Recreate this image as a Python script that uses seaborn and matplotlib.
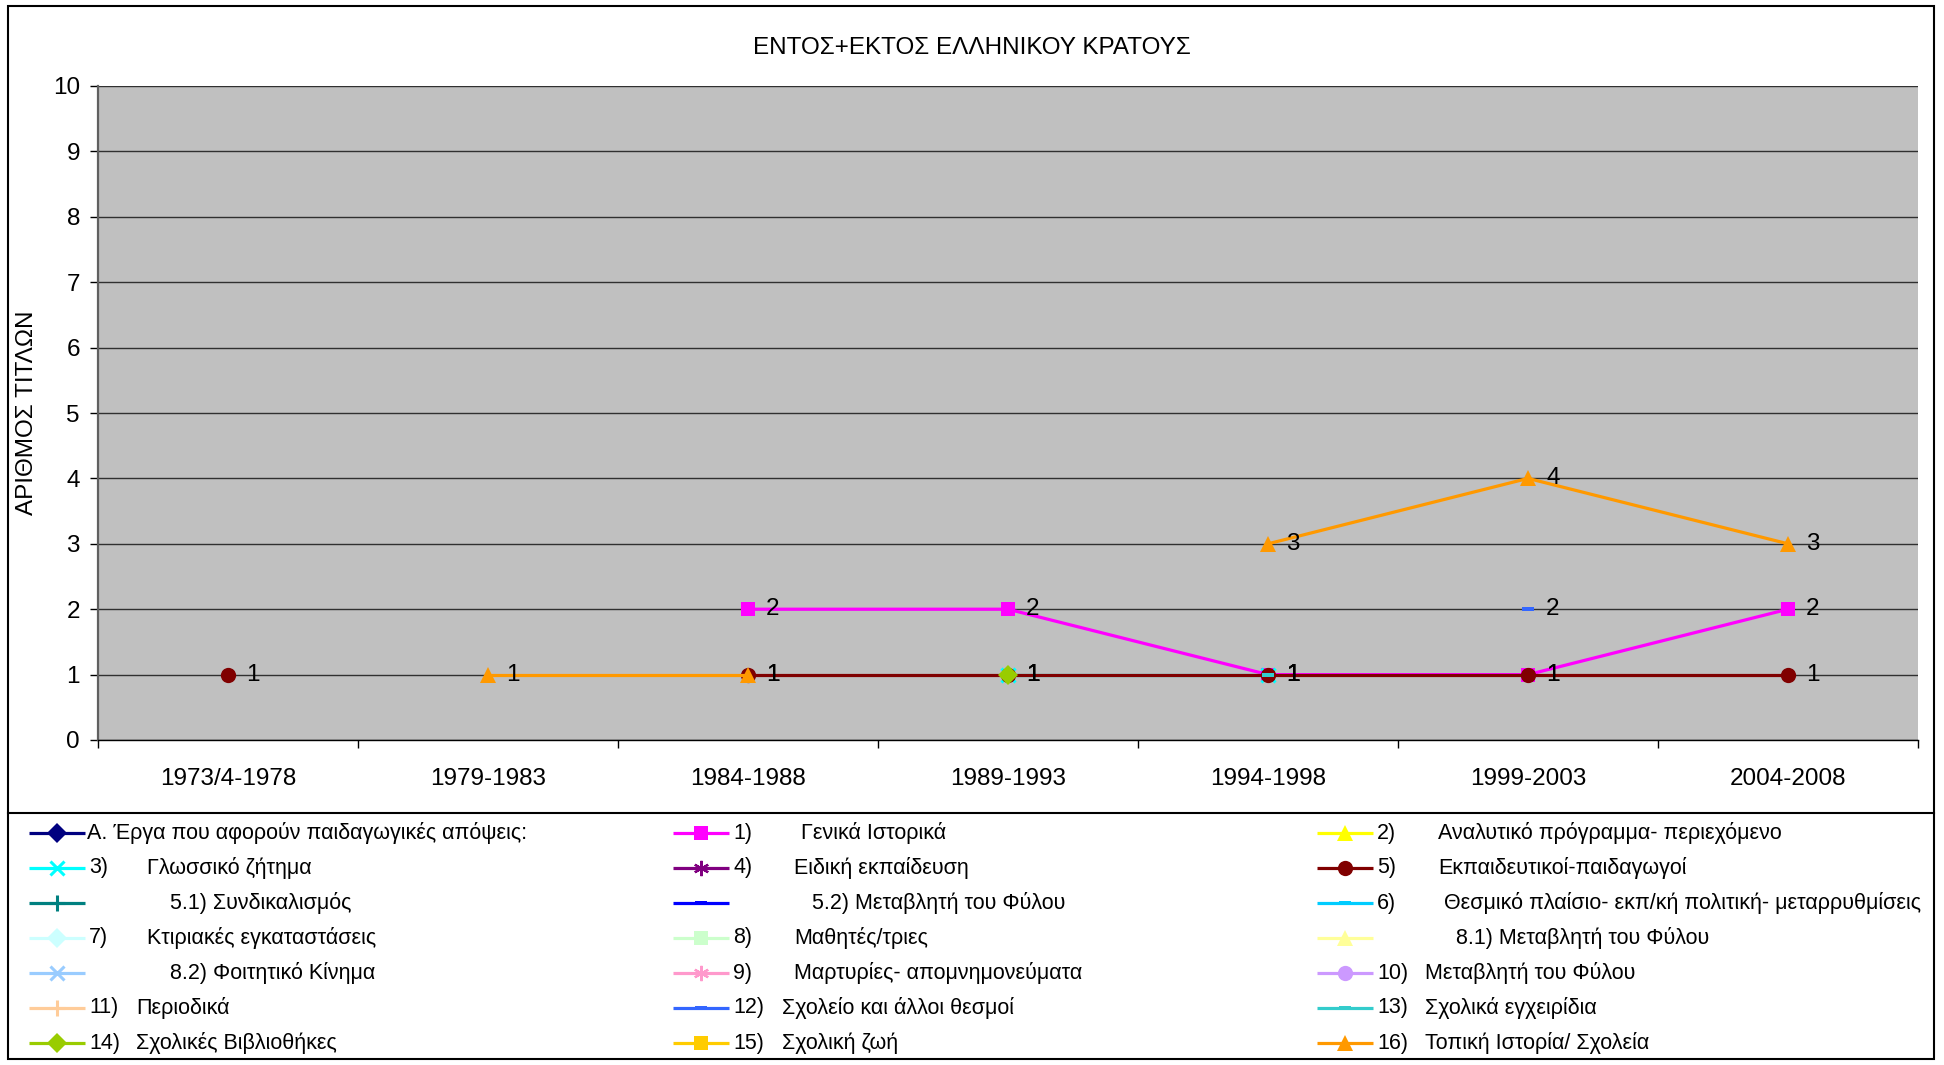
import numpy as np
import pandas as pd
import matplotlib
matplotlib.use("Agg")
import matplotlib.pyplot as plt
import seaborn as sns
from matplotlib.path import Path
from matplotlib.patches import Rectangle
from matplotlib.ticker import FixedLocator, NullFormatter, FixedFormatter

plt.rcParams['font.family'] = ['Liberation Sans', 'DejaVu Sans']

# ---------------- data ----------------
periods = ['1973/4-1978', '1979-1983', '1984-1988', '1989-1993',
           '1994-1998', '1999-2003', '2004-2008']
nan = np.nan
v_A   = [nan, nan, nan, nan, nan, nan, nan]
v_1   = [nan, nan, 2, 2, 1, 1, 2]
v_2   = [nan, nan, nan, nan, nan, nan, nan]
v_3   = [nan, nan, nan, 1, 1, nan, nan]
v_4   = [nan, nan, nan, nan, nan, nan, nan]
v_5   = [1, nan, 1, 1, 1, 1, 1]
v_5_1 = [nan, nan, nan, nan, nan, nan, nan]
v_5_2 = [nan, nan, nan, nan, nan, nan, nan]
v_6   = [nan, nan, nan, nan, nan, nan, nan]
v_7   = [nan, nan, nan, nan, nan, nan, nan]
v_8   = [nan, nan, nan, nan, nan, nan, nan]
v_8_1 = [nan, nan, nan, nan, nan, nan, nan]
v_8_2 = [nan, nan, nan, nan, nan, nan, nan]
v_9   = [nan, nan, nan, nan, nan, nan, nan]
v_10  = [nan, nan, nan, nan, nan, nan, nan]
v_11  = [nan, nan, nan, nan, nan, nan, nan]
v_12  = [nan, nan, nan, nan, nan, 2, nan]
v_13  = [nan, nan, nan, nan, 1, nan, nan]
v_14  = [nan, nan, nan, 1, nan, nan, nan]
v_15  = [nan, nan, nan, nan, nan, nan, nan]
v_16  = [nan, 1, 1, nan, 3, 4, 3]

legend_numbers = ['', '1)', '2)', '3)', '4)', '5)', '', '', '6)', '7)', '8)', '',
                  '', '9)', '10)', '11)', '12)', '13)', '14)', '15)', '16)']
legend_names = ['Α. Έργα που αφορούν παιδαγωγικές απόψεις:',
                'Γενικά Ιστορικά',
                'Αναλυτικό πρόγραμμα- περιεχόμενο',
                'Γλωσσικό ζήτημα',
                'Ειδική εκπαίδευση',
                'Εκπαιδευτικοί-παιδαγωγοί',
                '5.1) Συνδικαλισμός',
                '5.2) Μεταβλητή του Φύλου',
                'Θεσμικό πλαίσιο- εκπ/κή πολιτική- μεταρρυθμίσεις',
                'Κτιριακές εγκαταστάσεις',
                'Μαθητές/τριες',
                '8.1) Μεταβλητή του Φύλου',
                '8.2) Φοιτητικό Κίνημα',
                'Μαρτυρίες- απομνημονεύματα',
                'Μεταβλητή του Φύλου',
                'Περιοδικά',
                'Σχολείο και άλλοι θεσμοί',
                'Σχολικά εγχειρίδια',
                'Σχολικές Βιβλιοθήκες',
                'Σχολική ζωή',
                'Τοπική Ιστορία/ Σχολεία']
series_values = [v_A, v_1, v_2, v_3, v_4, v_5, v_5_1, v_5_2, v_6, v_7, v_8,
                 v_8_1, v_8_2, v_9, v_10, v_11, v_12, v_13, v_14, v_15, v_16]

# ---------------- styles ----------------
dash = Path([(-1, -0.35), (1, -0.35), (1, 0.35), (-1, 0.35), (-1, -0.35)],
            [1, 2, 2, 2, 79])
aster = (6, 2, 0)
colors = ['#000080', '#FF00FF', '#FFFF00', '#00FFFF', '#800080', '#800000',
          '#008080', '#0000FF', '#00CCFF', '#CCFFFF', '#CCFFCC', '#FFFF99',
          '#99CCFF', '#FF99CC', '#CC99FF', '#FFCC99', '#3366FF', '#33CCCC',
          '#99CC00', '#FFCC00', '#FF9900']
markers = ['D', 's', '^', 'x', aster, 'o', '+', dash, dash, 'D', 's', '^',
           'x', aster, 'o', '+', dash, dash, 'D', 's', '^']
msizes = {'D': 10, 's': 10.5, '^': 11.5, 'x': 10, 'o': 11, '+': 11}
name_offsets = [58, 128, 121, 118, 121, 121, 141, 139, 127, 118, 121, 139,
                141, 121, 108, 107, 109, 108, 107, 109, 108]

FS = 17.5     # chart text
LFS = 15.5    # legend text


def mstyle(m):
    if isinstance(m, Path):
        return dict(markersize=9, markeredgewidth=0)
    if m == aster:
        return dict(markersize=11, markeredgewidth=1.6)
    if m in ('x', '+'):
        return dict(markersize=msizes[m], markeredgewidth=2.2)
    return dict(markersize=msizes[m], markeredgewidth=0)


W, H = 1944, 1065
fig = plt.figure(figsize=(W / 100, H / 100), dpi=100)
L, R, T, B = 98, 1918, 86, 740
ax = fig.add_axes([L / W, 1 - B / H, (R - L) / W, (B - T) / H])
ax.set_facecolor('#C0C0C0')

for vals, col, mk in zip(series_values, colors, markers):
    arr = np.array(vals, dtype=float)
    if np.all(np.isnan(arr)):
        continue
    df = pd.DataFrame({'x': np.arange(len(arr)), 'y': arr})
    df['seg'] = np.cumsum(np.isnan(arr))
    df = df.dropna()
    sns.lineplot(data=df, x='x', y='y', units='seg', estimator=None,
                 color=col, marker=mk, markeredgecolor=col, markerfacecolor=col,
                 linewidth=2.3, ax=ax, zorder=3, **mstyle(mk))
    for xi, yi in zip(df['x'], df['y']):
        ax.annotate(f'{int(yi)}', (xi, yi), xytext=(13, 0),
                    textcoords='offset points', ha='left', va='center',
                    fontsize=FS, color='black', zorder=5)

ax.set_xlim(-0.5, len(periods) - 0.5)
ax.set_ylim(0, 10)
ax.set_xlabel('')
ax.set_ylabel('')
ax.xaxis.set_major_locator(FixedLocator(np.arange(-0.5, len(periods), 1.0)))
ax.xaxis.set_major_formatter(NullFormatter())
ax.xaxis.set_minor_locator(FixedLocator(np.arange(len(periods))))
ax.xaxis.set_minor_formatter(FixedFormatter(periods))
ax.tick_params(axis='x', which='major', length=6, width=1, color='black', direction='out')
ax.tick_params(axis='x', which='minor', length=0, pad=20, labelsize=FS)
ax.set_yticks(range(0, 11))
ax.tick_params(axis='y', length=6, width=1, color='black', direction='out',
               pad=7, labelsize=FS)
ax.yaxis.grid(True, color='#303030', linewidth=1.0)
ax.xaxis.grid(False)
ax.set_axisbelow(True)
for s in ('top', 'right'):
    ax.spines[s].set_visible(False)
ax.spines['left'].set_color('#606060')
ax.spines['left'].set_linewidth(1.6)
ax.spines['bottom'].set_color('black')
ax.spines['bottom'].set_linewidth(1.0)

# title and y label
fig.text(972 / W, 1 - 48 / H, 'ΕΝΤΟΣ+ΕΚΤΟΣ ΕΛΛΗΝΙΚΟΥ ΚΡΑΤΟΥΣ', ha='center',
         va='center', fontsize=FS)
fig.text(27 / W, 1 - 413 / H, 'ΑΡΙΘΜΟΣ ΤΙΤΛΩΝ', ha='center', va='center',
         rotation=90, fontsize=FS)

# overlay for frame & legend
ov2 = fig.add_axes([0, 0, 1, 1])
ov2.set_xlim(0, W)
ov2.set_ylim(H, 0)
ov2.axis('off')
ov2.patch.set_alpha(0)
ov2.add_patch(Rectangle((8, 6), 1926, 1053, fill=False, edgecolor='black', lw=1.5))
ov2.plot([8, 1934], [813, 813], color='black', lw=1.5)

col_x = [29, 673, 1317]
row_y0, row_dy = 833, 35
for i, (num, name, col, mk, off) in enumerate(zip(legend_numbers, legend_names,
                                                   colors, markers, name_offsets)):
    r, c = divmod(i, 3)
    x0 = col_x[c]
    y = row_y0 + r * row_dy
    ov2.plot([x0, x0 + 56], [y, y], color=col, lw=2.3, solid_capstyle='butt')
    ov2.plot([x0 + 28], [y], marker=mk, color=col, markeredgecolor=col,
             markerfacecolor=col, **mstyle(mk))
    if num:
        ov2.text(x0 + 60, y, num, ha='left', va='center', fontsize=LFS)
    ov2.text(x0 + off, y, name, ha='left', va='center', fontsize=LFS)

fig.savefig('out.png', dpi=100, facecolor='white')
